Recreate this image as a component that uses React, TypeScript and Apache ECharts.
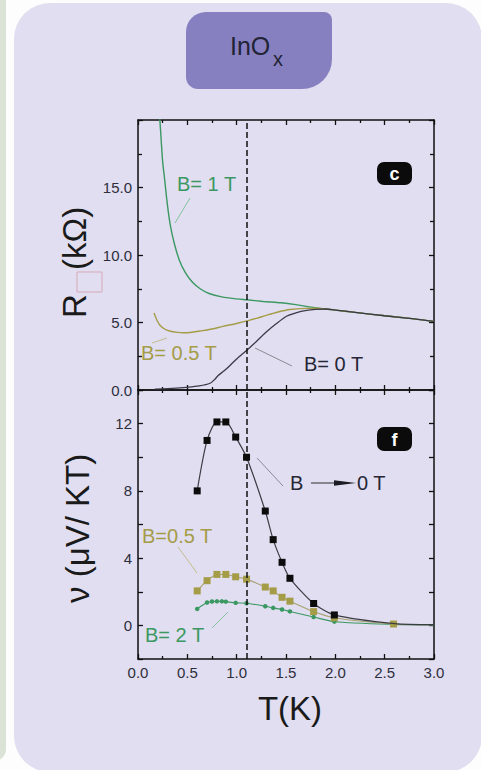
import React, { useEffect, useRef } from "react";
import * as echarts from "echarts";

const FONT = "'Liberation Sans', Arial, Helvetica, sans-serif";

// ---- Panel (c): sheet resistance R (kΩ) against temperature T (K) ----
const resB1: [number, number][] = [
  [0.22, 20.2], [0.235, 18.5], [0.25, 16.9], [0.27, 15.6], [0.3, 13.6], [0.33, 12.1],
  [0.37, 10.8], [0.42, 9.6], [0.48, 8.7], [0.55, 8.0], [0.63, 7.5], [0.72, 7.15],
  [0.85, 6.9], [1.0, 6.75], [1.1, 6.68], [1.27, 6.56], [1.45, 6.46], [1.6, 6.32],
  [1.75, 6.14], [1.9, 6.0], [2.0, 5.92], [2.2, 5.75], [2.5, 5.5], [2.8, 5.27], [3.0, 5.08],
];
const resB05: [number, number][] = [
  [0.163, 5.7], [0.19, 5.2], [0.22, 4.82], [0.27, 4.52], [0.32, 4.37], [0.4, 4.27],
  [0.46, 4.24], [0.55, 4.28], [0.63, 4.37], [0.75, 4.52], [0.86, 4.71], [1.0, 4.93],
  [1.1, 5.11], [1.2, 5.3], [1.3, 5.53], [1.42, 5.78], [1.54, 5.96], [1.7, 6.05],
  [1.82, 6.06], [1.9, 6.0], [2.0, 5.92], [2.2, 5.75], [2.5, 5.5], [2.8, 5.27], [3.0, 5.08],
];
const resB0: [number, number][] = [
  [0.17, 0.07], [0.3, 0.1], [0.49, 0.2], [0.62, 0.3], [0.73, 0.5], [0.78, 0.8],
  [0.81, 1.06], [0.87, 1.4], [0.93, 1.8], [1.0, 2.3], [1.1, 2.93], [1.2, 3.6],
  [1.3, 4.29], [1.4, 4.9], [1.51, 5.48], [1.6, 5.72], [1.71, 5.9], [1.8, 5.97],
  [1.9, 6.0], [2.0, 5.92], [2.2, 5.75], [2.5, 5.5], [2.8, 5.27], [3.0, 5.08],
];

// ---- Panel (f): Nernst coefficient ν (μV/KT) against temperature T (K) ----
const tempNu = [0.6, 0.7, 0.8, 0.89, 0.99, 1.1, 1.29, 1.37, 1.46, 1.54, 1.78, 1.99];
const nuB0 = [8.0, 11.0, 12.1, 12.1, 11.2, 10.0, 6.8, 5.1, 3.75, 2.8, 1.3, 0.62];
const nuB05 = [2.05, 2.66, 3.03, 3.03, 2.89, 2.75, 2.28, 2.05, 1.67, 1.44, 0.82, 0.45];
const nuB05Extra: [number, number][] = [[2.59, 0.08]];
const tempNuB2 = [0.6, 0.7, 0.75, 0.8, 0.85, 0.89, 0.99, 1.1, 1.29, 1.37, 1.46, 1.54, 1.78, 1.99];
const nuB2 = [0.98, 1.36, 1.42, 1.43, 1.43, 1.41, 1.34, 1.32, 1.14, 1.04, 0.94, 0.83, 0.5, 0.22];
// line continuation towards high temperature (no markers)
const tailB0: [number, number][] = [[2.6, 0.1], [3.0, 0.04]];
const tailB05: [number, number][] = [[3.0, 0.04]];
const tailB2: [number, number][] = [[2.6, 0.06], [3.0, 0.03]];

const markT = 1.1;

const xTicks = { min: 0, max: 3, interval: 0.5 };
const rTicks = { min: 0, max: 20, interval: 5 };
const nuTicks = { min: -2, max: 14, interval: 2 };

const GREEN = "#3b9862";
const OLIVE = "#a59c48";
const DARK = "#262636";
const TICK_TEXT = "#2e2e3c";

function xAxis(grid: number, position: string, labels: boolean) {
  return {
    type: "value",
    gridIndex: grid,
    position,
    ...xTicks,
    axisLine: { show: true, onZero: false, lineStyle: { color: "#111", width: 1.5 } },
    axisTick: { show: true, inside: true, length: 5, lineStyle: { color: "#111", width: 1.3 } },
    minorTick: { show: true, splitNumber: 2, length: 3, lineStyle: { color: "#111", width: 1.3 } },
    axisLabel: {
      show: labels,
      margin: 6,
      fontSize: 15,
      fontFamily: FONT,
      color: TICK_TEXT,
      formatter: (v: number) => v.toFixed(1),
    },
    splitLine: { show: false },
    minorSplitLine: { show: false },
  };
}

function yAxis(grid: number, position: string, ticks: any, labels: boolean, fmt: (v: number) => string, minor: boolean) {
  return {
    type: "value",
    gridIndex: grid,
    position,
    ...ticks,
    axisLine: { show: true, onZero: false, lineStyle: { color: "#111", width: 1.5 } },
    axisTick: { show: true, inside: true, length: 5, lineStyle: { color: "#111", width: 1.3 } },
    minorTick: { show: minor, splitNumber: 2, length: 4, lineStyle: { color: "#111", width: 1.3 } },
    axisLabel: { show: labels, margin: 6, fontSize: 15, fontFamily: FONT, color: TICK_TEXT, formatter: fmt },
    splitLine: { show: false },
    minorSplitLine: { show: false },
  };
}

const markLine = {
  silent: true,
  symbol: ["none", "none"],
  label: { show: false },
  lineStyle: { color: "#111", type: [6, 3], width: 1.5 },
  data: [{ xAxis: markT }],
};

const zip = (xs: number[], ys: number[]) => xs.map((x, i) => [x, ys[i]]);
const plain = (pts: [number, number][]) => pts.map((p) => ({ value: p, symbol: "none" }));

function txt(text: string, x: number, y: number, fill: string, size = 20, extra: any = {}) {
  return {
    type: "text",
    x,
    y,
    z: 100,
    style: { text, fill, font: `${size}px ${FONT}`, align: "left", verticalAlign: "middle", ...extra },
  };
}
function lead(x1: number, y1: number, x2: number, y2: number, stroke: string) {
  return { type: "line", z: 100, shape: { x1, y1, x2, y2 }, style: { stroke, lineWidth: 1 } };
}
function badge(letter: string, x: number, y: number, h: number) {
  return {
    type: "group",
    z: 100,
    children: [
      { type: "rect", shape: { x, y, width: 35, height: h, r: 7 }, style: { fill: "#0b0b0b" } },
      {
        type: "text",
        x: x + 17.5,
        y: y + h / 2 + 0.5,
        style: { text: letter, fill: "#fff", font: `bold 18px ${FONT}`, align: "center", verticalAlign: "middle" },
      },
    ],
  };
}

export default function App() {
  const ref = useRef<HTMLDivElement>(null);

  useEffect(() => {
    const chart = echarts.init(ref.current!, null, { renderer: "svg" });
    chart.setOption({
      animation: false,
      backgroundColor: "transparent",
      grid: [
        { left: 138, top: 120, width: 296, height: 270 },
        { left: 138, top: 390, width: 296, height: 269 },
      ],
      xAxis: [xAxis(0, "bottom", false), xAxis(0, "top", false), xAxis(1, "bottom", true), xAxis(1, "top", false)],
      yAxis: [
        yAxis(0, "left", rTicks, true, (v) => (v >= 20 ? "" : v.toFixed(1)), true),
        yAxis(0, "right", rTicks, false, (v) => String(v), true),
        yAxis(1, "left", nuTicks, true, (v) => (v >= 0 && v <= 12 && v % 4 === 0 ? String(v) : ""), false),
        yAxis(1, "right", nuTicks, false, (v) => String(v), false),
      ],
      series: [
        {
          type: "line", name: "B=1 T", xAxisIndex: 0, yAxisIndex: 0, data: resB1,
          symbol: "none", smooth: 0.3, lineStyle: { color: GREEN, width: 1.4 }, markLine,
        },
        {
          type: "line", name: "B=0.5 T", xAxisIndex: 0, yAxisIndex: 0, data: resB05,
          symbol: "none", smooth: 0.3, lineStyle: { color: OLIVE, width: 1.4 },
        },
        {
          type: "line", name: "B=0 T", xAxisIndex: 0, yAxisIndex: 0, data: resB0,
          symbol: "none", smooth: 0.3, lineStyle: { color: "#3a3a48", width: 1.3 },
        },
        {
          type: "line", name: "B=2 T", xAxisIndex: 2, yAxisIndex: 2,
          data: [...zip(tempNuB2, nuB2), ...plain(tailB2)],
          symbol: "circle", symbolSize: 4.5, smooth: 0.25,
          itemStyle: { color: GREEN }, lineStyle: { color: GREEN, width: 1.1 }, z: 3,
          markLine,
        },
        {
          type: "line", name: "B=0.5 T", xAxisIndex: 2, yAxisIndex: 2,
          data: [...zip(tempNu, nuB05), ...nuB05Extra, ...plain(tailB05)],
          symbol: "rect", symbolSize: 7, smooth: 0.25,
          itemStyle: { color: OLIVE }, lineStyle: { color: "#a8a070", width: 1.1 }, z: 4,
        },
        {
          type: "line", name: "B→0 T", xAxisIndex: 2, yAxisIndex: 2,
          data: [...zip(tempNu, nuB0), ...plain(tailB0)],
          symbol: "rect", symbolSize: 7, smooth: 0.25,
          itemStyle: { color: "#0c0c0c" }, lineStyle: { color: "#3c3c44", width: 1.2 }, z: 5,
        },
      ],
      graphic: [
        // page panels
        { type: "rect", z: -10, shape: { x: -20, y: -20, width: 26, height: 781, r: 12 }, style: { fill: "#dbe2d6" } },
        { type: "rect", z: -10, shape: { x: 14, y: 3, width: 468, height: 769, r: 36 }, style: { fill: "#e0def0" } },
        { type: "rect", z: -9, shape: { x: 186, y: 12, width: 146, height: 77, r: [20, 8, 30, 12] }, style: { fill: "#8680c0" } },
        txt("InO", 230, 46, "#232336", 25),
        txt("x", 273, 59, "#232336", 20),

        // axis titles
        {
          type: "group",
          x: 74,
          y: 318,
          rotation: Math.PI / 2,
          z: 100,
          children: [
            { type: "text", x: 0, y: 0, style: { text: "R", fill: "#1a1a1a", font: `33px ${FONT}`, align: "left", verticalAlign: "middle" } },
            { type: "rect", shape: { x: 26, y: 3, width: 20, height: 25 }, style: { fill: "none", stroke: "#d6a9b8", lineWidth: 1 } },
            { type: "text", x: 48, y: 0, style: { text: "(kΩ)", fill: "#1a1a1a", font: `33px ${FONT}`, align: "left", verticalAlign: "middle" } },
          ],
        },
        {
          type: "text",
          x: 77,
          y: 603,
          rotation: Math.PI / 2,
          z: 100,
          style: { text: "ν (μV/ KT)", fill: "#1a1a1a", font: `33px ${FONT}`, align: "left", verticalAlign: "middle" },
        },
        {
          type: "text",
          x: 290,
          y: 708,
          z: 100,
          style: { text: "T(K)", fill: "#1a1a1a", font: `33px ${FONT}`, align: "center", verticalAlign: "middle" },
        },

        // panel (c) annotations
        badge("c", 377, 162, 23),
        txt("B= 1 T", 177, 184, GREEN),
        lead(175, 223, 190, 198, "#86c29b"),
        txt("B= 0.5 T", 141, 353, OLIVE),
        lead(152, 343, 167, 338, "#c4bd8f"),
        txt("B= 0 T", 304, 364, DARK),
        lead(255, 348, 292, 366, "#8a8a96"),

        // panel (f) annotations
        badge("f", 377, 427, 24),
        txt("B", 290, 483, DARK),
        { type: "line", z: 100, shape: { x1: 311, y1: 483, x2: 340, y2: 483 }, style: { stroke: "#6a6a72", lineWidth: 1.5 } },
        { type: "polygon", z: 100, shape: { points: [[334, 480.3], [356, 483], [334, 485.7]] }, style: { fill: "#1c1c24" } },
        txt("0 T", 357, 483, DARK),
        lead(257, 458, 283, 486, "#8a8a96"),
        txt("B=0.5 T", 142, 536, OLIVE),
        lead(178, 547, 197, 573, "#c4bd8f"),
        txt("B= 2 T", 145, 635, GREEN),
        lead(212, 628, 228, 612, "#86c29b"),
      ],
    });
    return () => chart.dispose();
  }, []);

  return (
    <div
      ref={ref}
      style={{ position: "absolute", left: 0, top: 0, width: 481, height: 770, background: "#fdfdfd" }}
    />
  );
}
